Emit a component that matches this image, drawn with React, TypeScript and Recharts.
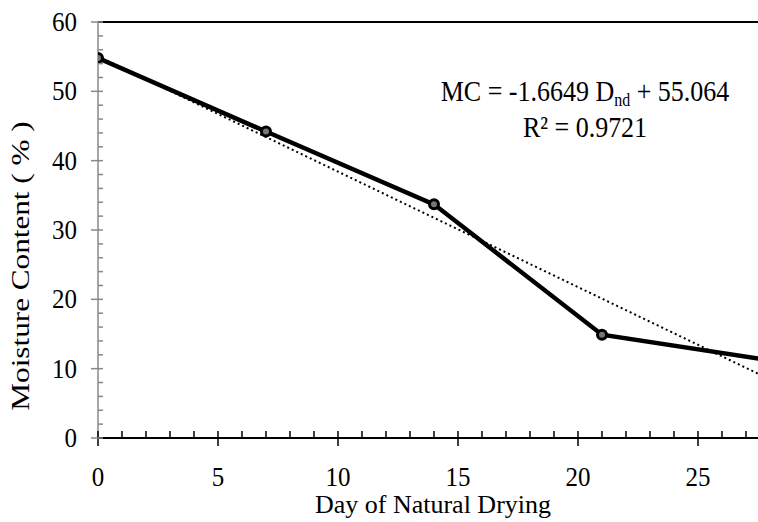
import { LineChart, Line, XAxis, YAxis, ReferenceLine } from "recharts"

const days = [0, 7, 14, 21, 28]
const moisture = [54.8, 44.2, 33.7, 14.9, 11.2]
const trendDays = [0, 28]
const trendValues = [55.06, 8.45]

const xTicks = Array.from({ length: 28 }, (_, i) => i)
const yTicks = Array.from({ length: 31 }, (_, i) => i * 2)

const measured = days.map((d, i) => ({ day: d, mc: moisture[i] }))
const trend = trendDays.map((d, i) => ({ day: d, trend: trendValues[i] }))

const serif = "'Liberation Serif', 'Times New Roman', serif"

const YTick = (props: any) => {
  const { x, y, payload } = props
  const major = payload.value % 10 === 0
  return (
    <g>
      <line x1={major ? x - 7 : x} x2={x + 5} y1={y} y2={y} stroke="#888" strokeWidth={1.5} />
      {major && (
        <text
          transform={`translate(${x - 21} ${y + 9}) scale(1 1.1)`}
          textAnchor="end"
          fontSize={25}
          fontFamily={serif}
          fill="#000"
        >
          {payload.value}
        </text>
      )}
    </g>
  )
}

const XTick = (props: any) => {
  const { x, y, payload } = props
  const major = payload.value % 5 === 0
  return (
    <g>
      <line x1={x} x2={x} y1={y - 7} y2={major ? y + 8 : y} stroke="#000" strokeWidth={1.5} />
      {major && (
        <text
          transform={`translate(${x} ${y + 48}) scale(1 1.1)`}
          textAnchor="middle"
          fontSize={25}
          fontFamily={serif}
          fill="#000"
        >
          {payload.value}
        </text>
      )}
    </g>
  )
}

export default function App() {
  return (
    <div style={{ position: "absolute", left: 0, top: 0, width: 758, height: 522, background: "#fff" }}>
      <LineChart width={758} height={522} margin={{ top: 22, right: 0, left: 0, bottom: 0 }}>
        <XAxis
          type="number"
          dataKey="day"
          domain={[0, 27.5]}
          allowDataOverflow
          ticks={xTicks}
          interval={0}
          height={84}
          tickSize={0}
          tickMargin={0}
          tick={<XTick />}
          axisLine={{ stroke: "#000", strokeWidth: 2 }}
          label={{
            content: (p: any) => (
              <text
                x={p.viewBox.x + p.viewBox.width / 2 + 5}
                y={p.viewBox.y + 75}
                textAnchor="middle"
                fontSize={26}
                fontFamily={serif}
                fill="#000"
              >
                Day of Natural Drying
              </text>
            ),
          }}
        />
        <YAxis
          type="number"
          domain={[0, 60]}
          ticks={yTicks}
          interval={0}
          width={98}
          tickSize={0}
          tickMargin={0}
          tick={<YTick />}
          axisLine={{ stroke: "#888", strokeWidth: 1.5 }}
          label={{
            content: (p: any) => {
              const cx = p.viewBox.x + 29
              const cy = p.viewBox.y + p.viewBox.height / 2 + 36
              return (
                <text
                  transform={`translate(${cx} ${cy}) rotate(-90) scale(1.2 1)`}
                  textAnchor="middle"
                  fontSize={26}
                  fontFamily={serif}
                  fill="#000"
                >
                  Moisture Content ( % )
                </text>
              )
            },
          }}
        />
        <ReferenceLine y={60} stroke="#000" strokeWidth={2} />
        <Line
          data={trend}
          dataKey="trend"
          stroke="#000"
          strokeWidth={2}
          strokeDasharray="2 3"
          dot={false}
          isAnimationActive={false}
        />
        <Line
          data={measured}
          dataKey="mc"
          stroke="#000"
          strokeWidth={4.5}
          dot={{ r: 4.5, fill: "#777", stroke: "#000", strokeWidth: 3 }}
          isAnimationActive={false}
        />
      </LineChart>
      <svg
        width={758}
        height={522}
        style={{ position: "absolute", left: 0, top: 0, pointerEvents: "none" }}
      >
        <text
          transform="translate(585 101) scale(1 1.15)"
          textAnchor="middle"
          fontSize={26}
          fontFamily={serif}
          fill="#000"
        >
          MC = -1.6649 D<tspan fontSize={16} dy={4}>nd</tspan>
          <tspan dy={-4}> + 55.064</tspan>
        </text>
        <text
          transform="translate(585 137) scale(1 1.15)"
          textAnchor="middle"
          fontSize={26}
          fontFamily={serif}
          fill="#000"
        >
          R² = 0.9721
        </text>
      </svg>
    </div>
  )
}
